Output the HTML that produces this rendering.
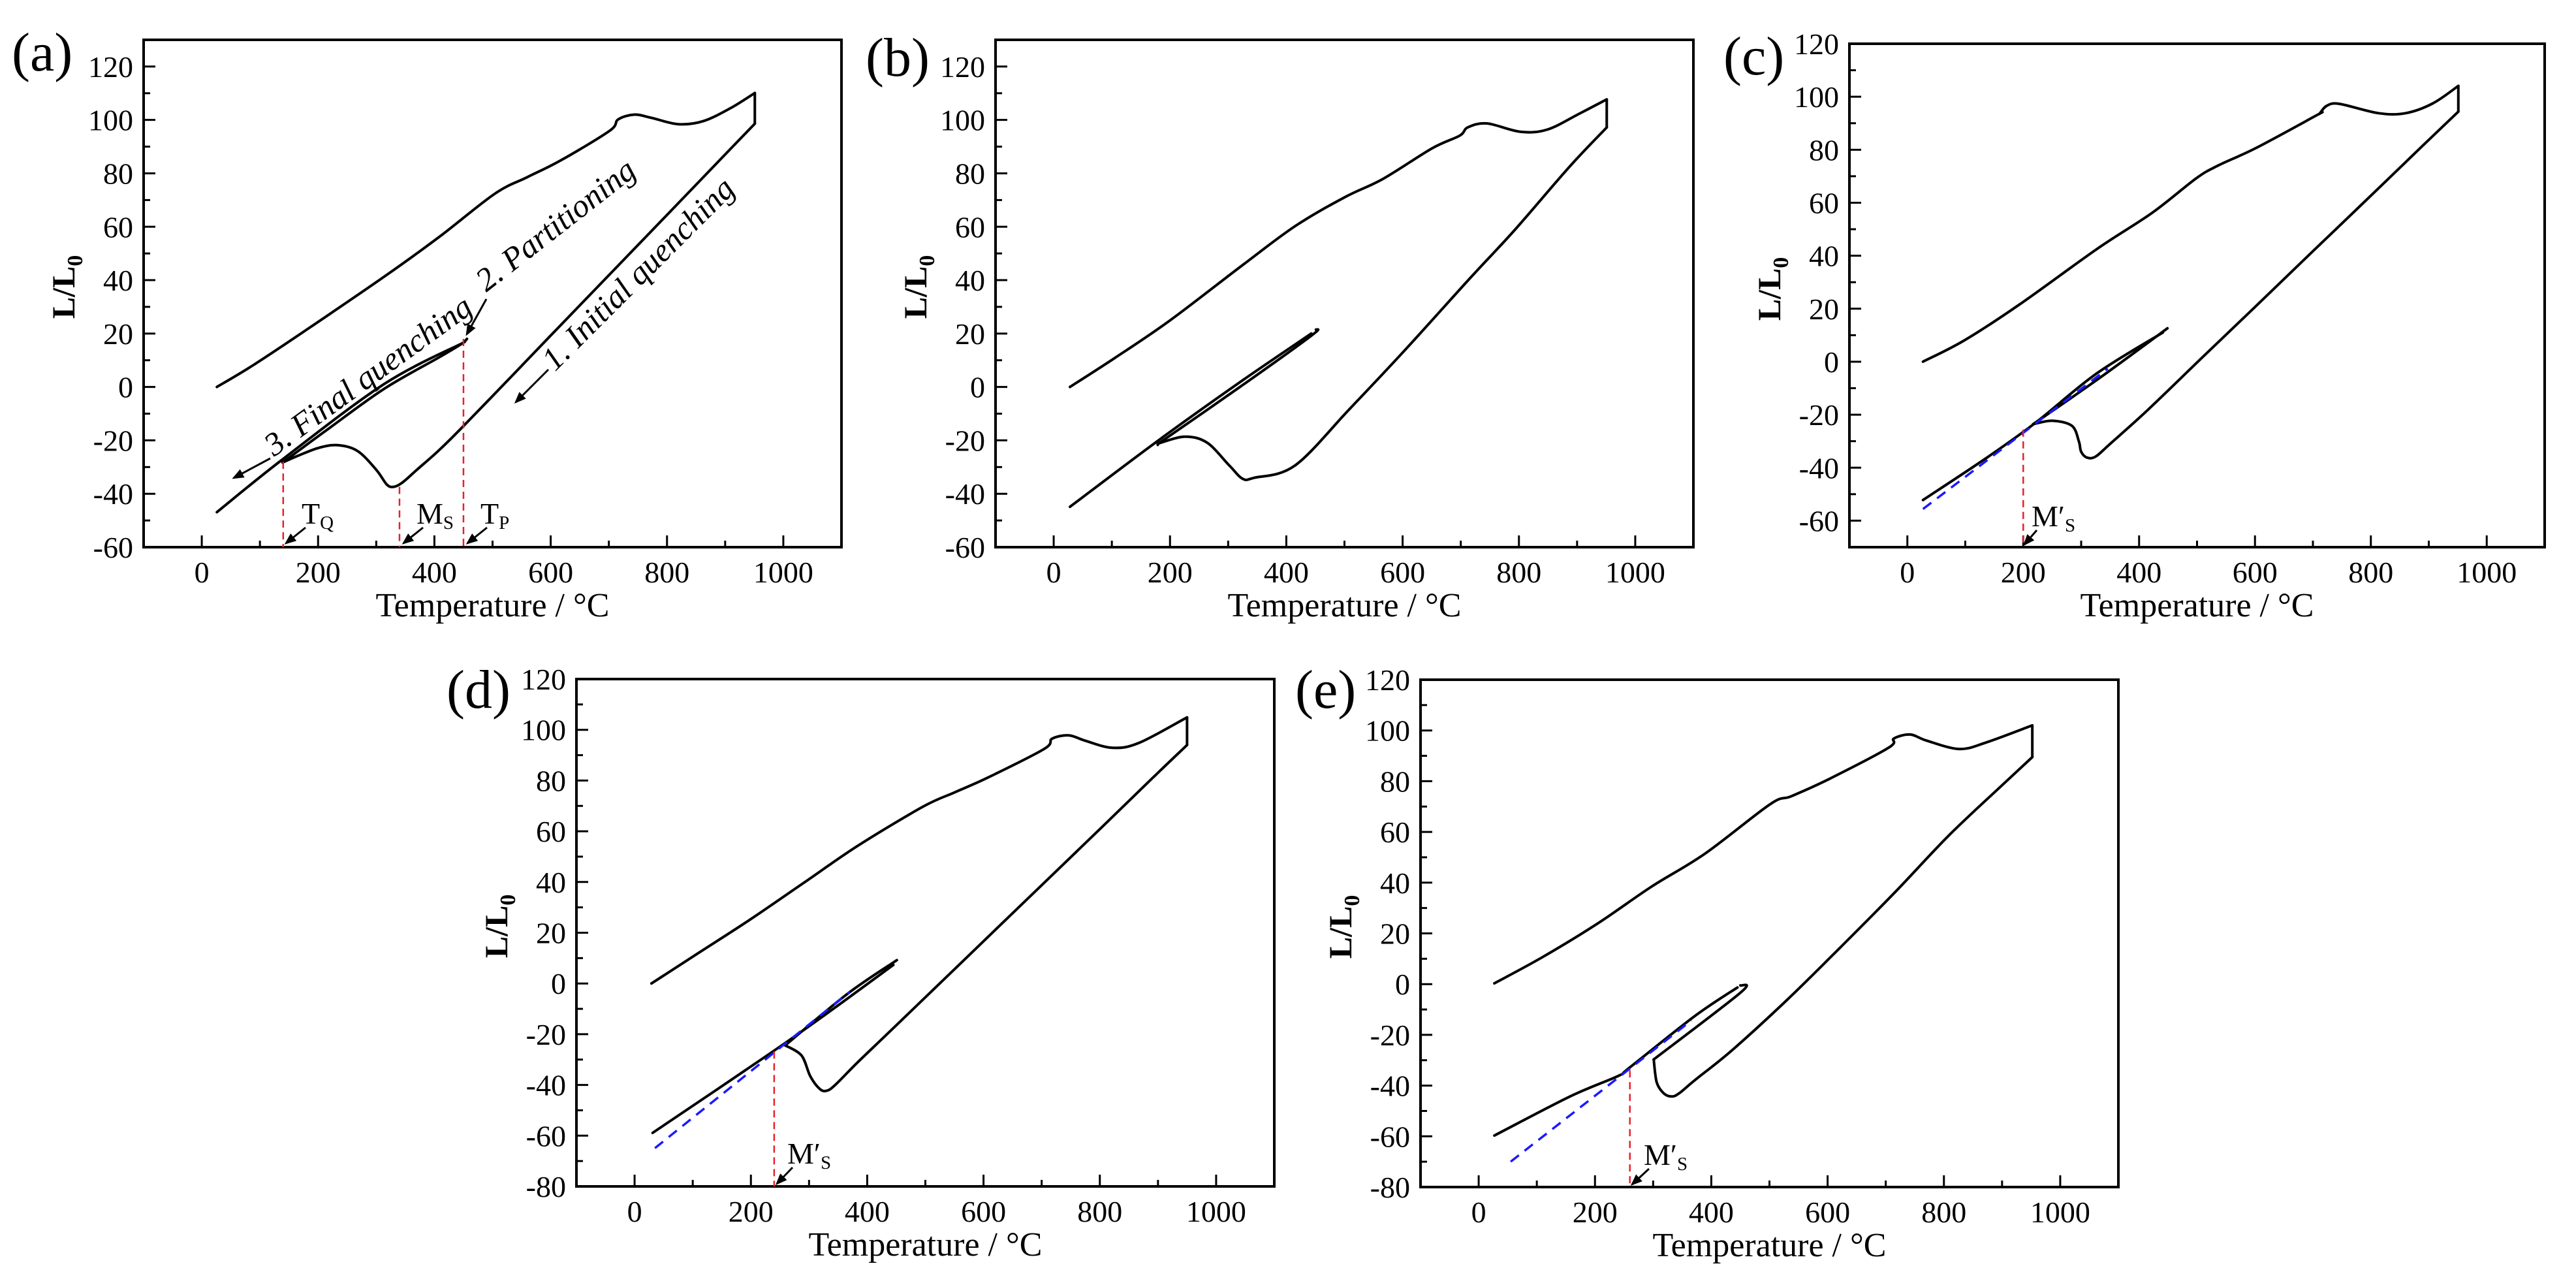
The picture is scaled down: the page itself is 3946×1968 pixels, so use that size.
<!DOCTYPE html>
<html><head><meta charset="utf-8"><style>
html,body{margin:0;padding:0;background:#fff}
svg{display:block}
text{font-family:"Liberation Serif","Times New Roman",serif;fill:#000}
</style></head><body>
<svg id="fig" width="3946" height="1968" viewBox="0 0 3946 1968" xmlns="http://www.w3.org/2000/svg" font-family="Liberation Serif, serif">
<defs>
<marker id="ah" markerWidth="6" markerHeight="6" refX="5" refY="3" orient="auto" markerUnits="strokeWidth"><path d="M0,0.6 L6,3 L0,5.4 z" fill="#000"/></marker>
</defs>
</svg>
<script>
// ---------- panel (a) data ----------
const aHeatT=[26,88,182,315,409,504,560,617,701,716,744,773,820,863,910,951];
const aHeatV=[0,8.1,21.7,41.5,56.3,72.4,78.6,84.8,95.9,100.2,102,100.8,98.4,99.6,104.5,110.1];
const aCoolT=[951,882,787,598,542,452,409,370,345,330,318,300,268,234,201,164,139];
const aCoolV=[98.6,83,61.5,18.8,6.1,-14.2,-23.5,-31,-35.8,-37.4,-36.5,-31,-24,-21.8,-22.8,-25.9,-28.3];
const aUpT=[139,220,315,409,447,456];
const aUpV=[-28.3,-15.3,-0.5,11.2,16.2,18];
const aFinalT=[452,315,139,26];
const aFinalV=[16.8,1.3,-27.1,-46.9];
const aRedT=[140,340,450];
const aRedV=[-28,-37.4,18];
// ---------- panel (b) data ----------
const bHeatT=[28,104,198,321,415,500,566,651,698,712,745,802,849,906,951];
const bHeatV=[0,10.7,24.6,45,60.2,71,77.9,89.4,94.1,97.2,98.7,95.6,96.4,102.6,107.7];
const bCoolT=[951,887,792,717,604,509,415,345,325,302,264,226,184,179];
const bCoolV=[97.2,82.5,58.6,41,13.8,-8.2,-29.4,-34,-34.4,-29.4,-20.9,-18.6,-20.9,-21.7];
const bUpT=[179,321,443,451];
const bUpV=[-21.4,0.1,19.2,21.5];
const bFinalT=[443,321,179,28];
const bFinalV=[20,1.9,-20.2,-44.9];
// ---------- panel (c) data ----------
const cHeatT=[27,98,193,327,422,498,536,603,708,712,724,746,813,860,907,951];
const cHeatV=[0,8,21.5,42.5,56.1,69.1,74,80.8,93.2,93.8,96.6,97.3,93.8,93.8,97.5,104.1];
const cCoolT=[951,889,785,700,605,510,415,350,325,310,300,296,284,250,217];
const cCoolV=[94.4,81.4,59.5,41.7,21.7,1.8,-18.2,-31,-35.8,-36.2,-34,-30,-24.2,-22.3,-23.6];
const cUpT=[217,327,449];
const cUpV=[-23.6,-6.9,12.6];
const cFinalT=[441,327,222,136,27];
const cFinalV=[11,-4.4,-22.9,-36.4,-52.2];
const cBlueT=[27,346];
const cBlueV=[-55.6,-2.6];
const cRedT=[200];
const cRedV=[-25.6];
// ---------- panel (d) data ----------
const dHeatT=[29,105,198,291,384,496,551,607,704,718,747,775,822,868,950];
const dHeatV=[0,11.3,25.1,39.7,54.3,69.7,75.4,81.1,92.4,96.5,97.8,95.7,92.9,94.9,104.9];
const dCoolT=[950,896,803,617,449,384,345,330,318,302,287,259];
const dCoolV=[94,82.2,61.5,20.4,-16.7,-31,-40,-42.3,-41.5,-36.5,-28.4,-24.4];
const dUpT=[259,366,451];
const dUpV=[-24.4,-4.1,9.2];
const dFinalT=[445,338,233,31];
const dFinalV=[7.3,-10.6,-27.6,-58.9];
const dBlueT=[35,370];
const dBlueV=[-64.9,-3.3];
const dRedT=[240];
const dRedV=[-26.8];
// ---------- panel (e) data ----------
const eHeatT=[27,111,204,297,389,501,538,603,705,714,742,770,826,872,952];
const eHeatV=[0.3,10.8,23.8,38.4,51.4,70.9,74.1,80.9,93.2,96.8,98.4,96,92.7,95.2,102];
const eCoolT=[952,901,808,715,622,529,436,371,345,332,318,306,301];
const eCoolV=[89.5,78.6,58.5,36,14.5,-6.5,-26,-38,-43,-44.3,-43,-38.6,-29.7];
const eUpT=[301,450,450];
const eUpV=[-29.7,-3.4,-0.5];
const eFinalT=[445,371,259,240,157,27];
const eFinalV=[-1.3,-12.7,-33,-36.2,-44.3,-59.7];
const eBlueT=[55,366];
const eBlueV=[-70,-14.3];
const eRedT=[260];
const eRedV=[-34];
// tick values
const xTicks=[0,200,400,600,800,1000];
const xMinor=[-100,100,300,500,700,900,1100];
const yTicksAB=[-60,-40,-20,0,20,40,60,80,100,120];
const yTicksC=[-60,-40,-20,0,20,40,60,80,100,120];
const yTicksDE=[-80,-60,-40,-20,0,20,40,60,80,100,120];

const NS='http://www.w3.org/2000/svg';
const svg=document.getElementById('fig');
function mk(tag,parent,attrs){const e=document.createElementNS(NS,tag);for(const k in attrs)e.setAttribute(k,attrs[k]);parent.appendChild(e);return e;}

function catmull(pts){
  if(pts.length<3){return 'M'+pts.map(p=>p[0].toFixed(1)+','+p[1].toFixed(1)).join(' L');}
  let d='M'+pts[0][0].toFixed(1)+','+pts[0][1].toFixed(1);
  for(let i=0;i<pts.length-1;i++){
    const p0=pts[i-1]||pts[i],p1=pts[i],p2=pts[i+1],p3=pts[i+2]||pts[i+1];
    const c1=[p1[0]+(p2[0]-p0[0])/6,p1[1]+(p2[1]-p0[1])/6];
    const c2=[p2[0]-(p3[0]-p1[0])/6,p2[1]-(p3[1]-p1[1])/6];
    d+=' C'+c1[0].toFixed(1)+','+c1[1].toFixed(1)+' '+c2[0].toFixed(1)+','+c2[1].toFixed(1)+' '+p2[0].toFixed(1)+','+p2[1].toFixed(1);
  }
  return d;
}

function panel(cfg){
  const g=mk('g',svg,{});
  
  
  const X=t=>cfg.L+(t-cfg.x0)/(cfg.x1-cfg.x0)*(cfg.R-cfg.L);
  const Y=v=>cfg.B-(v-cfg.y0)/(cfg.y1-cfg.y0)*(cfg.B-cfg.T);
  const frame=mk('rect',g,{x:cfg.L,y:cfg.T,width:cfg.R-cfg.L,height:cfg.B-cfg.T,fill:'none',stroke:'#000','stroke-width':4});
  
  
  xTicks.forEach(t=>{
    const l=mk('line',g,{x1:X(t),x2:X(t),y1:cfg.B,y2:cfg.B-18,stroke:'#000','stroke-width':3});
    
    
    const tx=mk('text',g,{x:X(t),y:cfg.B+54,'text-anchor':'middle','font-size':46});
    tx.textContent=t;
    
    
  });
  xMinor.forEach(t=>{
    const l=mk('line',g,{x1:X(t),x2:X(t),y1:cfg.B,y2:cfg.B-10,stroke:'#000','stroke-width':3});
    
    
  });
  cfg.yt.forEach(v=>{
    const l=mk('line',g,{x1:cfg.L,x2:cfg.L+18,y1:Y(v),y2:Y(v),stroke:'#000','stroke-width':3});
    
    
    const m=v+10;
    if(m<cfg.y1){
      const l2=mk('line',g,{x1:cfg.L,x2:cfg.L+10,y1:Y(m),y2:Y(m),stroke:'#000','stroke-width':3});
      
      
    }
    const tx=mk('text',g,{x:cfg.L-16,y:Y(v)+16,'text-anchor':'end','font-size':46});
    tx.textContent=v;
    
    
  });
  const xt=mk('text',g,{x:(cfg.L+cfg.R)/2,y:cfg.B+106,'text-anchor':'middle','font-size':52});
  xt.textContent='Temperature / °C';
  
  
  const ycx=cfg.L-106, ycy=(cfg.T+cfg.B)/2-10;
  const yt=mk('text',g,{x:ycx,y:ycy,'text-anchor':'middle','font-size':50,'font-weight':'bold',transform:'rotate(-90 '+ycx+' '+ycy+')'});
  
  
  yt.appendChild(document.createTextNode('L/L'));
  const sub=mk('tspan',yt,{'font-size':34,dy:12});sub.textContent='0';
  const pl=mk('text',g,{x:cfg.px,y:cfg.py,'font-size':84});
  pl.textContent='('+cfg.id+')';
  
  

  function curve(T,V,name){
    const p=mk('path',g,{d:catmull(T.map((t,i)=>[X(t),Y(V[i])])),fill:'none',stroke:'#000','stroke-width':4,'stroke-linejoin':'round','stroke-linecap':'round'});
    
    
  }
  curve(cfg.heatT,cfg.heatV,'heating-curve');
  const hl=cfg.heatT.length-1;
  const drop=mk('line',g,{x1:X(cfg.heatT[hl]),y1:Y(cfg.heatV[hl]),x2:X(cfg.coolT[0]),y2:Y(cfg.coolV[0]),stroke:'#000','stroke-width':4});
  
  
  curve(cfg.coolT,cfg.coolV,'initial-quenching-curve');
  curve(cfg.upT,cfg.upV,'partitioning-curve');
  curve(cfg.finT,cfg.finV,'final-quenching-curve');
  if(cfg.blueT){
    const b=mk('line',g,{x1:X(cfg.blueT[0]),y1:Y(cfg.blueV[0]),x2:X(cfg.blueT[1]),y2:Y(cfg.blueV[1]),stroke:'#1a1aff','stroke-width':3.5,'stroke-dasharray':'16 11'});
    
    
  }
  cfg.redT.forEach((t,i)=>{
    const r=mk('line',g,{x1:X(t),y1:Y(cfg.redV[i]),x2:X(t),y2:cfg.B,stroke:'#e8202a','stroke-width':2.5,'stroke-dasharray':'11 7'});
    
    
  });
  return {g,X,Y};
}

panel({id:'a',L:220,R:1289,T:61,B:838,x0:-100,x1:1100,y0:-60,y1:130,yt:yTicksAB,px:18,py:108,
  heatT:aHeatT,heatV:aHeatV,coolT:aCoolT,coolV:aCoolV,upT:aUpT,upV:aUpV,finT:aFinalT,finV:aFinalV,redT:aRedT,redV:aRedV});
panel({id:'b',L:1525,R:2594,T:61,B:838,x0:-100,x1:1100,y0:-60,y1:130,yt:yTicksAB,px:1326,py:116,
  heatT:bHeatT,heatV:bHeatV,coolT:bCoolT,coolV:bCoolV,upT:bUpT,upV:bUpV,finT:bFinalT,finV:bFinalV,redT:[],redV:[]});
panel({id:'c',L:2833,R:3898,T:67,B:838,x0:-100,x1:1100,y0:-70,y1:120,yt:yTicksC,px:2640,py:114,
  heatT:cHeatT,heatV:cHeatV,coolT:cCoolT,coolV:cCoolV,upT:cUpT,upV:cUpV,finT:cFinalT,finV:cFinalV,blueT:cBlueT,blueV:cBlueV,redT:cRedT,redV:cRedV});
panel({id:'d',L:883,R:1952,T:1040,B:1817,x0:-100,x1:1100,y0:-80,y1:120,yt:yTicksDE,px:684,py:1084,
  heatT:dHeatT,heatV:dHeatV,coolT:dCoolT,coolV:dCoolV,upT:dUpT,upV:dUpV,finT:dFinalT,finV:dFinalV,blueT:dBlueT,blueV:dBlueV,redT:dRedT,redV:dRedV});
panel({id:'e',L:2176,R:3245,T:1041,B:1818,x0:-100,x1:1100,y0:-80,y1:120,yt:yTicksDE,px:1984,py:1084,
  heatT:eHeatT,heatV:eHeatV,coolT:eCoolT,coolV:eCoolV,upT:eUpT,upV:eUpV,finT:eFinalT,finV:eFinalV,blueT:eBlueT,blueV:eBlueV,redT:eRedT,redV:eRedV});

function arrow(x1,y1,x2,y2,name){
  const a=mk('line',svg,{x1:x1,y1:y1,x2:x2,y2:y2,stroke:'#000','stroke-width':3,'marker-end':'url(#ah)'});
  
  
}
function label(x,y,main,sub,size,name){
  const t=mk('text',svg,{x:x,y:y,'font-size':size});
  
  
  t.appendChild(document.createTextNode(main));
  const s=mk('tspan',t,{'font-size':Math.round(size*0.62),dy:8});s.textContent=sub;
}
function rotText(x,y,ang,txt,name){
  const t=mk('text',svg,{x:x,y:y,'font-size':50,'font-style':'italic',transform:'rotate('+ang+' '+x+' '+y+')'});
  t.textContent=txt;
  
  
}
label(462,802,'T','Q',46,'tq-label');
label(638,802,'M','S',46,'ms-label');
label(736,802,'T','P',46,'tp-label');
arrow(468,808,438,832,'tq-arrow');
arrow(648,808,618,832,'ms-arrow');
arrow(746,808,716,832,'tp-arrow');
rotText(850,570,-45,'1. Initial quenching','initial-quenching-label');
arrow(840,566,790,616,'initial-quenching-arrow');
rotText(745,448,-38,'2. Partitioning','partitioning-label');
arrow(745,458,715,512,'partitioning-arrow');
rotText(420,700,-36,'3. Final quenching','final-quenching-label');
arrow(414,702,358,732,'final-quenching-arrow');
label(3112,806,'M′','S',46,'ms-prime-label-c');
arrow(3120,812,3101,834,'ms-prime-arrow-c');
label(1206,1782,'M′','S',46,'ms-prime-label-d');
arrow(1214,1788,1190,1813,'ms-prime-arrow-d');
label(2518,1784,'M′','S',46,'ms-prime-label-e');
arrow(2526,1790,2500,1814,'ms-prime-arrow-e');
</script>
</body></html>
